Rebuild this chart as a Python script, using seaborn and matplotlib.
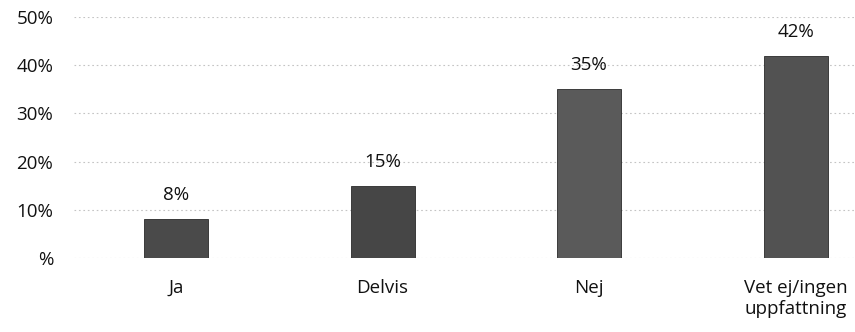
import matplotlib
matplotlib.use("Agg")
import matplotlib.pyplot as plt
import seaborn as sns
import pandas as pd

# Survey answers and their shares
categories = ["Ja", "Delvis", "Nej", "Vet ej/ingen\nuppfattning"]
shares = [0.08, 0.15, 0.35, 0.42]
value_labels = ["8%", "15%", "35%", "42%"]
ytick_values = [0.0, 0.1, 0.2, 0.3, 0.4, 0.5]
ytick_labels = ["%", "10%", "20%", "30%", "40%", "50%"]

sns.set_theme(style="white")
plt.rcParams["font.family"] = ["Open Sans", "DejaVu Sans"]

FS = 13.5

df = pd.DataFrame({"svar": categories, "andel": shares})
bar_colors = ["#4a4a4a", "#464646", "#5a5a5a", "#525252"]

fig = plt.figure(figsize=(8.55, 3.32), dpi=100)
ax = fig.add_axes([74 / 855, 74 / 332, (855 - 74) / 855, (258 - 17) / 332])

sns.barplot(data=df, x="svar", y="andel", hue="svar", palette=bar_colors,
            width=0.31, legend=False, ax=ax, edgecolor="#2a2a2a", linewidth=0.6,
            saturation=1)

ax.set_xlim(-0.494, 3.288)
ax.set_ylim(0, 0.5)
ax.set_yticks(ytick_values)
ax.set_yticklabels(ytick_labels, fontsize=FS, color="#111111")
ax.tick_params(axis="y", length=0, pad=15)
ax.tick_params(axis="x", length=0, pad=15, labelsize=FS, labelcolor="#111111")
for lbl in ax.get_xticklabels():
    lbl.set_verticalalignment("top")
    lbl.set_linespacing(1.25)

ax.set_xlabel("")
ax.set_ylabel("")
for s in ax.spines.values():
    s.set_visible(False)

ax.yaxis.grid(True, color="#c4c4c4", linestyle=(0, (1.5, 2.5)), linewidth=0.8)
ax.set_axisbelow(True)

for i, (v, t) in enumerate(zip(shares, value_labels)):
    ax.annotate(t, xy=(i, v), xytext=(0, 17.3), textcoords="offset points",
                ha="center", va="center", fontsize=FS, color="#111111",
                annotation_clip=False)

fig.savefig("out.png", dpi=100)
